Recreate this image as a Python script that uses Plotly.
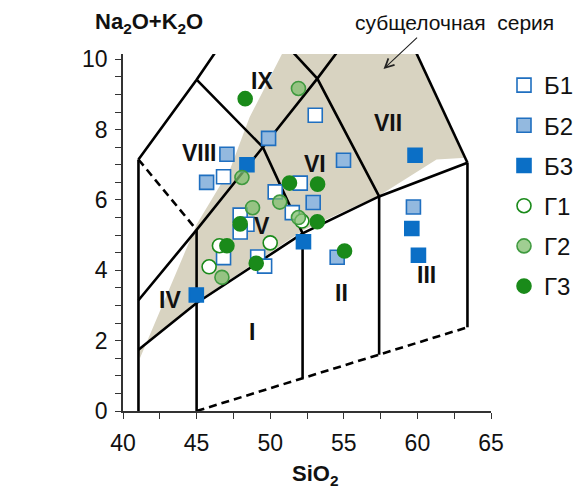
import plotly.graph_objects as go

# ---------------- sample data: SiO2 (x) and Na2O+K2O (y) ----------------
b1_x = [53.06, 46.83, 50.34, 52.04, 51.50, 47.96, 48.42, 47.96, 46.83, 49.15, 49.62]
b1_y = [8.41, 6.66, 6.23, 6.48, 5.64, 5.57, 5.31, 5.09, 4.36, 4.38, 4.12]
b2_x = [49.89, 47.06, 45.68, 52.92, 54.98, 59.73, 54.55]
b2_y = [7.75, 7.30, 6.50, 5.93, 7.13, 5.80, 4.37]
b3_x = [48.42, 59.84, 59.62, 60.07, 52.26, 44.98]
b3_y = [7.00, 7.27, 5.19, 4.43, 4.81, 3.30]
g1_x = [50.00, 46.55, 45.85, 52.15]
g1_y = [4.78, 4.70, 4.10, 5.40]
g2_x = [51.92, 48.08, 50.65, 48.80, 51.92, 46.72]
g2_y = [9.17, 6.64, 5.94, 5.78, 5.50, 3.80]
g3_x = [48.30, 51.31, 53.22, 53.20, 47.96, 47.06, 49.05, 55.05]
g3_y = [8.88, 6.48, 6.45, 5.38, 5.32, 4.70, 4.20, 4.55]

series_names = ["Б1", "Б2", "Б3", "Г1", "Г2", "Г3"]

# ---------------- classification field boundaries ----------------
solid_lines = [
    ([41.05, 41.05], [0.0, 7.15]),
    ([41.05, 45.0, 48.4], [7.15, 9.42, 11.5]),
    ([45.0, 49.5, 52.2], [9.42, 7.50, 5.05]),
    ([41.05, 45.0, 49.5, 53.2, 55.8], [3.15, 5.15, 7.50, 9.45, 10.9]),
    ([50.0, 53.2, 57.4], [10.9, 9.45, 6.10]),
    ([58.9, 63.4], [11.1, 7.06]),
    ([41.05, 45.0, 52.2, 57.4, 63.4], [1.74, 3.07, 5.05, 6.10, 7.06]),
    ([45.0, 45.0], [0.0, 5.15]),
    ([52.2, 52.2], [0.93, 5.05]),
    ([57.4, 57.4], [1.60, 6.10]),
    ([63.4, 63.4], [2.38, 7.06]),
]
dashed_lines = [
    ([41.05, 45.0], [7.15, 5.15]),
    ([45.0, 63.4], [0.0, 2.38]),
]
# subalkaline series field (shaded)
field_x = [41.15, 45.0, 47.3, 48.6, 50.8, 60.0, 63.3, 61.3, 57.5, 52.3, 45.0, 41.05, 41.15]
field_y = [1.50, 5.30, 6.90, 8.35, 10.15, 10.15, 7.20, 7.15, 6.15, 5.15, 3.10, 1.74, 1.50]

field_labels = ["I", "II", "III", "IV", "V", "VI", "VII", "VIII", "IX"]
label_x = [48.76, 54.87, 60.64, 43.21, 49.44, 53.06, 58.03, 45.18, 49.44]
label_y = [2.26, 3.35, 3.87, 3.16, 5.25, 7.01, 8.20, 7.34, 9.38]

# ---------------- layout geometry ----------------
W, H = 576, 488
L, R, T, B = 123, 85, 54, 77
PW, PH = W - L - R, H - T - B


def px_to_paper(px, py):
    return (px - L) / PW, (H - B - py) / PH


FONT = "Liberation Sans, Arial, sans-serif"
BLUE = "#1f6fc0"
GREEN = "#1a8a1a"

fig = go.Figure()

fig.add_trace(go.Scatter(x=field_x, y=field_y, mode="lines", fill="toself",
                         fillcolor="#d8d3c1", line=dict(width=0),
                         hoverinfo="skip", showlegend=False))
for xs, ys in solid_lines:
    fig.add_trace(go.Scatter(x=xs, y=ys, mode="lines",
                             line=dict(color="black", width=2.6),
                             hoverinfo="skip", showlegend=False))
for xs, ys in dashed_lines:
    fig.add_trace(go.Scatter(x=xs, y=ys, mode="lines",
                             line=dict(color="black", width=2.6, dash="8px,5px"),
                             hoverinfo="skip", showlegend=False))

styles = [
    (b1_x, b1_y, "square", "white", BLUE),
    (b2_x, b2_y, "square", "#93b9df", BLUE),
    (b3_x, b3_y, "square", "#0b6fc6", "#0b6fc6"),
    (g1_x, g1_y, "circle", "white", GREEN),
    (g2_x, g2_y, "circle", "rgba(128,190,110,0.75)", "#3f9a3f"),
    (g3_x, g3_y, "circle", GREEN, GREEN),
]
for name, (xs, ys, sym, fill, edge) in zip(series_names, styles):
    fig.add_trace(go.Scatter(
        x=xs, y=ys, mode="markers", name=name, legendgroup=name,
        marker=dict(symbol=sym, size=14, color=fill,
                    line=dict(color=edge, width=1.6)),
        cliponaxis=False))

for t, x, y in zip(field_labels, label_x, label_y):
    fig.add_annotation(x=x, y=y, text="<b>%s</b>" % t, showarrow=False,
                       xanchor="center", yanchor="middle",
                       font=dict(family=FONT, size=23, color="#111"))


def paper_text(text, px, py, size, bold=False):
    x, y = px_to_paper(px, py)
    fig.add_annotation(xref="paper", yref="paper", x=x, y=y,
                       xanchor="center", yanchor="middle",
                       text=("<b>%s</b>" % text) if bold else text,
                       showarrow=False,
                       font=dict(family=FONT, size=size, color="#111"))


paper_text("Na<sub>2</sub>O+K<sub>2</sub>O", 149, 23, 22, bold=True)
paper_text("SiO<sub>2</sub>", 315, 475, 22, bold=True)
paper_text("субщелочная\u00a0\u00a0серия", 454, 22, 21)
fig.add_annotation(x=57.7, y=9.72, text="", showarrow=True,
                   ax=35, ay=-33, arrowhead=5, arrowsize=1.6,
                   arrowwidth=1.1, arrowcolor="#222")

fig.update_layout(
    width=W, height=H,
    margin=dict(l=L, r=R, t=T, b=B, pad=0, autoexpand=False),
    paper_bgcolor="white", plot_bgcolor="white",
    font=dict(family=FONT, size=23, color="#111"),
    showlegend=True,
    legend=dict(xref="container", yref="container",
                x=504 / W, y=1 - 63 / H, xanchor="left", yanchor="top",
                traceorder="grouped", tracegroupgap=6,
                font=dict(family=FONT, size=24, color="#111"),
                bgcolor="rgba(0,0,0,0)", borderwidth=0),
    xaxis=dict(range=[40, 65], tickvals=[40, 45, 50, 55, 60, 65],
               ticks="outside", ticklen=6, tickwidth=1.3, tickcolor="#333",
               minor=dict(dtick=2.5, ticks="outside", ticklen=6, tickwidth=1.3,
                          tickcolor="#333", showgrid=False),
               showline=True, linecolor="#333", linewidth=1.5,
               showgrid=False, zeroline=False, ticklabelstandoff=5,
               tickfont=dict(family=FONT, size=23, color="#111")),
    yaxis=dict(range=[0, 10.15], tickvals=[0, 2, 4, 6, 8, 10],
               ticks="outside", ticklen=6, tickwidth=1.3, tickcolor="#333",
               minor=dict(dtick=0.5, ticks="outside", ticklen=6, tickwidth=1.3,
                          tickcolor="#333", showgrid=False),
               showline=True, linecolor="#333", linewidth=1.5,
               showgrid=False, zeroline=False, ticklabelstandoff=3,
               tickfont=dict(family=FONT, size=23, color="#111")),
)

fig.write_html("out.html")
